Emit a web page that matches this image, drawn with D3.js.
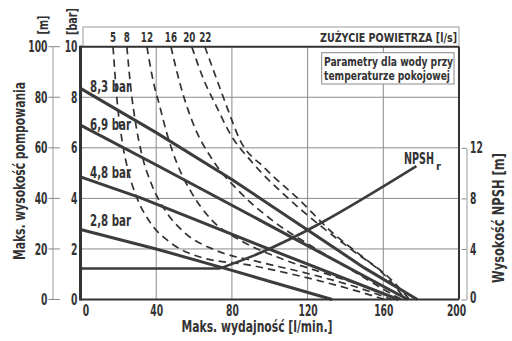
<!DOCTYPE html>
<html><head><meta charset="utf-8">
<script src="https://cdn.jsdelivr.net/npm/d3@7"></script>
<style>
body{margin:0;background:#fff}
text{font-family:"Liberation Sans Narrow","DejaVu Sans Condensed",sans-serif;font-weight:bold;fill:#333}
</style></head><body><svg id="c" width="512" height="341"></svg>
<script>
// ---- data ----
const xTicks = [0,40,80,120,160,200];
const mTicks = [0,20,40,60,80,100];
const barTicks = [0,2,4,6,8,10];
const npshTicks = [0,4,8,12];
const airLabels = ["5","8","12","16","20","22"];
const pressureLabels = ["8,3 bar","6,9 bar","4,8 bar","2,8 bar"];

// pressure curves: [flow l/min, head m]
const p83 = [[0,83.5],[40,66],[80,47.5],[120,27.5],[150,12.5],[178,0]];
const p69 = [[0,69],[40.6,53],[94.7,31.4],[173,0]];
const p48 = [[0,48.5],[31.5,40.3],[97.4,20.6],[168,0]];
const p28 = [[0,27.7],[40,20],[80,11.5],[133,0]];
// NPSHr curve: [flow l/min, NPSH m]
const npshR = [[0,2.45],[73,2.45],[78,2.7],[177.5,10.55]];
// air consumption curves [flow, head m]
const air5  = [[17.2,100],[19.3,78.9],[21.9,63.1],[25.1,51.2],[29.8,40.3],[36.7,30.6],[47.2,22.7],[63.1,16.8],[89.4,13.6],[115.8,9.3],[142.2,4.2],[160.7,0]];
const air8  = [[24.5,100],[26.7,82.8],[29.3,69],[32.5,57.1],[37.7,45.3],[44.6,35.4],[55.2,26.3],[71,19.6],[94.7,14.8],[121.1,10.1],[147.5,4.5],[164.4,0]];
const air12 = [[35.1,100],[38.3,86.8],[42,76.1],[45.6,65.8],[50.9,54],[58.8,42.1],[69.4,31.4],[84.2,23.5],[105.3,16.4],[131.7,9.7],[155.4,3.8],[167.5,0]];
const air16 = [[47.8,100],[52.5,85.6],[59.4,69.8],[69.9,55.1],[84.2,42.5],[102.6,30.6],[123.7,20.4],[144.9,10.9],[160.7,3.8],[169.7,0]];
const air20 = [[58.8,100],[65.2,86.8],[72,76.1],[78.9,65.8],[91,54],[107.9,41.3],[126.4,29.4],[144.9,18.8],[160.7,9.7],[171.8,0]];
const air22 = [[65.7,100],[71.5,88.1],[77.3,76.3],[84.2,63.2],[97.4,52],[115.8,39.3],[132.7,26.7],[148.5,17.2],[164.4,7.7],[173.9,0]];

const airCurves = [air5,air8,air12,air16,air20,air22];
const pressureCurves = [p83,p69,p48,p28];

// ---- layout ----
const svg = d3.select("#c");
const L=80.5, R=459, T=46.7, B=299.5;
const x = d3.scaleLinear([0,200],[L,R]);
const yM = d3.scaleLinear([0,100],[B,T]);
const yBar = d3.scaleLinear([0,10],[B,T]);
const yN = d3.scaleLinear([0,12],[B,yM(60)]);
const DIG = 6.4; // narrow digit width

// top box
svg.append("rect").attr("x",83).attr("y",27).attr("width",R-83).attr("height",T-27)
  .attr("fill","none").attr("stroke","#999").attr("stroke-width",1);

// grid
svg.append("g").selectAll("line").data(xTicks.filter(d=>d>0&&d<200)).join("line")
  .attr("x1",d=>x(d)).attr("x2",d=>x(d)).attr("y1",T).attr("y2",B)
  .attr("stroke","#8a8a8a").attr("stroke-width",1);
svg.append("g").selectAll("line").data(mTicks.filter(d=>d>0&&d<100)).join("line")
  .attr("x1",L).attr("x2",R).attr("y1",d=>yM(d)).attr("y2",d=>yM(d))
  .attr("stroke","#8a8a8a").attr("stroke-width",1);

// legend box
svg.append("rect").attr("x",321.7).attr("y",52.7).attr("width",132.3).attr("height",31.3)
  .attr("fill","#fff").attr("stroke","#888").attr("stroke-width",1);
svg.append("text").attr("x",324).attr("y",65.5).attr("font-size",12.5)
  .attr("textLength",129).attr("lengthAdjust","spacingAndGlyphs").text("Parametry dla wody przy");
svg.append("text").attr("x",324).attr("y",79.5).attr("font-size",12.5)
  .attr("textLength",126).attr("lengthAdjust","spacingAndGlyphs").text("temperaturze pokojowej");

// dashed air curves
const line = d3.line().x(d=>x(d[0])).y(d=>yM(d[1])).curve(d3.curveMonotoneX);
svg.append("g").selectAll("path").data(airCurves).join("path")
  .attr("d",line).attr("fill","none").attr("stroke","#333")
  .attr("stroke-width",1.7).attr("stroke-dasharray","7.5,5");

// pressure curves
svg.append("g").selectAll("path").data(pressureCurves).join("path")
  .attr("d",d3.line().x(d=>x(d[0])).y(d=>yM(d[1])))
  .attr("fill","none").attr("stroke","#3c3c3c").attr("stroke-width",3);

// NPSH curve
svg.append("path").datum(npshR)
  .attr("d",d3.line().x(d=>x(d[0])).y(d=>yN(d[1])).curve(d3.curveMonotoneX))
  .attr("fill","none").attr("stroke","#3c3c3c").attr("stroke-width",2.6);

// frame
svg.append("line").attr("x1",L).attr("x2",L).attr("y1",T-1).attr("y2",B+1).attr("stroke","#333").attr("stroke-width",3);
svg.append("line").attr("x1",L).attr("x2",R).attr("y1",B).attr("y2",B).attr("stroke","#333").attr("stroke-width",2.2);
svg.append("line").attr("x1",L).attr("x2",R).attr("y1",T).attr("y2",T).attr("stroke","#333").attr("stroke-width",2);
svg.append("line").attr("x1",R).attr("x2",R).attr("y1",T).attr("y2",B).attr("stroke","#333").attr("stroke-width",2);

// air labels in top box
const airDx = [0,0,0,0,-2.5,0.5];
svg.append("g").selectAll("text").data(airCurves).join("text")
  .attr("x",(d,i)=>x(d[0][0])+airDx[i]).attr("y",41.5).attr("text-anchor","middle").attr("font-size",14)
  .attr("textLength",(d,i)=>airLabels[i].length*6.1).attr("lengthAdjust","spacingAndGlyphs")
  .text((d,i)=>airLabels[i]);
svg.append("text").attr("x",457).attr("y",41.5).attr("text-anchor","end").attr("font-size",13)
  .attr("textLength",137).attr("lengthAdjust","spacingAndGlyphs").text("ZUŻYCIE POWIETRZA [l/s]");

// pressure labels
const plY = [92,130,177.5,226];
svg.append("g").selectAll("text").data(pressureLabels).join("text")
  .attr("x",90).attr("y",(d,i)=>plY[i]).attr("font-size",15)
  .attr("textLength",41).attr("lengthAdjust","spacingAndGlyphs").text(d=>d);

// NPSHr label (one text, subscript via tspan)
const nl = svg.append("text").attr("x",404).attr("y",163.5).attr("font-size",15);
nl.append("tspan").attr("textLength",30).attr("lengthAdjust","spacingAndGlyphs").text("NPSH");
nl.append("tspan").attr("dx",2).attr("dy",6).attr("font-size",11)
  .attr("textLength",5).attr("lengthAdjust","spacingAndGlyphs").text("r");

// left axis guide line + ticks
svg.append("line").attr("x1",53).attr("x2",53).attr("y1",yM(100)).attr("y2",yM(0)).attr("stroke","#999").attr("stroke-width",1);
svg.append("g").selectAll("line").data(mTicks).join("line")
  .attr("x1",48.5).attr("x2",60).attr("y1",d=>yM(d)).attr("y2",d=>yM(d)).attr("stroke","#888").attr("stroke-width",1);

const styleText = sel => sel.attr("font-size",16).attr("fill","#333").attr("font-family",null)
  .attr("textLength",function(){return this.textContent.length*DIG;}).attr("lengthAdjust","spacingAndGlyphs");
const styleAxis = g => { g.select(".domain").remove(); g.selectAll("text").call(styleText); };
svg.append("g").attr("transform","translate(47.5,0)")
  .call(d3.axisLeft(yM).tickValues(mTicks).tickSize(0).tickPadding(0)).call(styleAxis);
svg.append("g").attr("transform","translate(77.5,0)")
  .call(d3.axisLeft(yBar).tickValues(barTicks).tickSize(0).tickPadding(0)).call(styleAxis);

// bottom axis
const ba = svg.append("g").attr("transform",`translate(0,${B})`)
  .call(d3.axisBottom(x).tickValues(xTicks).tickSize(0).tickPadding(5)).call(styleAxis);
ba.selectAll(".tick text").attr("dx",d=>d===0?5:(d===200?-3:0));

// right axis
const ra = svg.append("g").attr("transform","translate(466.5,0)")
  .call(d3.axisRight(yN).tickValues(npshTicks).tickSizeInner(-5).tickSizeOuter(0).tickPadding(3.5));
ra.select(".domain").attr("stroke","#999");
ra.selectAll(".tick line").attr("stroke","#888");
ra.selectAll("text").call(styleText);
ra.selectAll(".tick text").attr("dy",d=>d===0?"0.2em":"0.32em");

// axis titles
svg.append("text").attr("transform","translate(25,171) rotate(-90)").attr("text-anchor","middle")
  .attr("font-size",15).attr("textLength",178).attr("lengthAdjust","spacingAndGlyphs").text("Maks. wysokość pompowania");
svg.append("text").attr("transform","translate(48,25) rotate(-90)").attr("text-anchor","middle")
  .attr("font-size",14).attr("textLength",19).attr("lengthAdjust","spacingAndGlyphs").text("[m]");
svg.append("text").attr("transform","translate(76.5,21.5) rotate(-90)").attr("text-anchor","middle")
  .attr("font-size",14).attr("textLength",27).attr("lengthAdjust","spacingAndGlyphs").text("[bar]");
svg.append("text").attr("transform","translate(504,218) rotate(-90)").attr("text-anchor","middle")
  .attr("font-size",15).attr("textLength",130).attr("lengthAdjust","spacingAndGlyphs").text("Wysokość NPSH [m]");
svg.append("text").attr("x",257).attr("y",332).attr("text-anchor","middle")
  .attr("font-size",15).attr("textLength",151).attr("lengthAdjust","spacingAndGlyphs").text("Maks. wydajność [l/min.]");
</script></body></html>
